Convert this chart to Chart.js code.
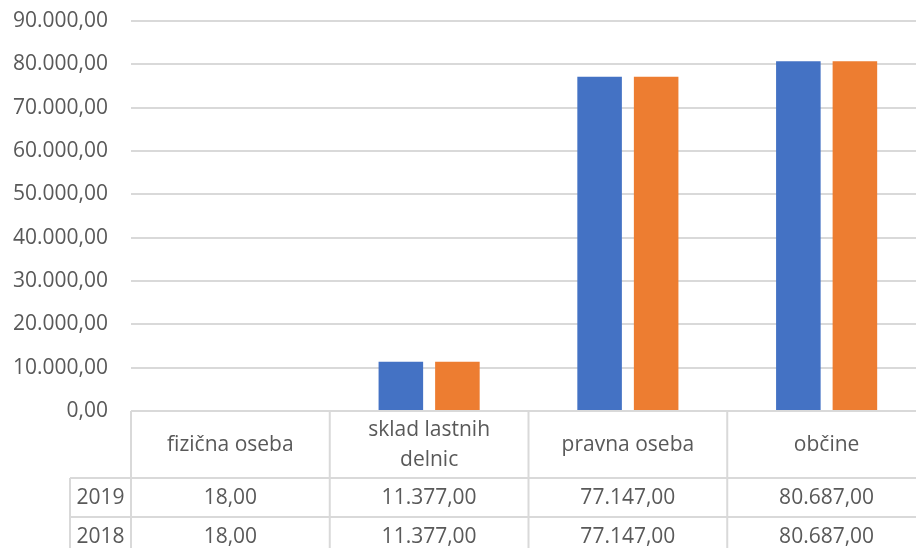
<!DOCTYPE html>
<html>
<head>
<meta charset="utf-8">
<script src="https://cdn.jsdelivr.net/npm/chart.js@4.4.1/dist/chart.umd.min.js"></script>
<style>
  html, body { margin: 0; padding: 0; background: #fff; overflow: hidden; }
  #wrap { width: 916px; height: 548px; overflow: hidden; }
</style>
</head>
<body>
<div id="wrap"><canvas id="c" width="926" height="548"></canvas></div>
<script>
const categories = ['fizična oseba', ['sklad lastnih', 'delnic'], 'pravna oseba', 'občine'];
const seriesNames = ['2019', '2018'];
const values2019 = [18, 11377, 77147, 80687];
const values2018 = [18, 11377, 77147, 80687];
const colors = ['#4472C4', '#ED7D31'];

const FONT = '"Open Sans", sans-serif';
const TEXT = '#595959';
const LINE = '#d9d9d9';

// 1234.5 -> 1.234,50
const fmt = v => v.toFixed(2).replace('.', ',').replace(/\B(?=(\d{3})+(?!\d))/g, '.');

// data table under the plot, Excel style
const tablePlugin = {
  id: 'dataTable',
  afterDraw(chart) {
    const { ctx, chartArea, scales: { x } } = chart;
    const n = categories.length;
    const colW = x.width / n;
    const top = chartArea.bottom;
    const headH = 67, rowH = 39;
    const keyLeft = 70;
    const series = [values2019, values2018];

    ctx.save();
    ctx.strokeStyle = LINE;
    ctx.lineWidth = 2;

    // horizontal lines
    ctx.beginPath();
    ctx.moveTo(x.left, top); ctx.lineTo(x.right, top);
    for (let r = 0; r <= series.length; r++) {
      const y = top + headH + r * rowH;
      ctx.moveTo(keyLeft, y); ctx.lineTo(x.right, y);
    }
    // vertical lines
    const bottom = top + headH + series.length * rowH;
    for (let i = 0; i <= n; i++) {
      const xx = x.left + i * colW;
      ctx.moveTo(xx, top); ctx.lineTo(xx, bottom);
    }
    ctx.moveTo(keyLeft, top + headH); ctx.lineTo(keyLeft, bottom);
    ctx.stroke();

    ctx.fillStyle = TEXT;
    ctx.font = '21px ' + FONT;
    ctx.textAlign = 'center';
    ctx.textBaseline = 'middle';

    categories.forEach((c, i) => {
      const lines = Array.isArray(c) ? c : [c];
      const cx = x.left + (i + 0.5) * colW;
      const cy = top + headH / 2 + 1;
      lines.forEach((l, j) => {
        ctx.fillText(l, cx, cy + (j - (lines.length - 1) / 2) * 30);
      });
    });

    series.forEach((vals, r) => {
      const cy = top + headH + (r + 0.5) * rowH + 1;
      ctx.fillText(seriesNames[r], (keyLeft + x.left) / 2, cy);
      vals.forEach((v, i) => {
        ctx.fillText(fmt(v), x.left + (i + 0.5) * colW, cy);
      });
    });
    ctx.restore();
  }
};

const ctx = document.getElementById('c').getContext('2d');
new Chart(ctx, {
  type: 'bar',
  data: {
    labels: categories,
    datasets: [
      { label: seriesNames[0], data: values2019, backgroundColor: colors[0] },
      { label: seriesNames[1], data: values2018, backgroundColor: colors[1] },
    ]
  },
  options: {
    responsive: false,
    animation: false,
    layout: { padding: { top: 21, bottom: 137, left: 0, right: 0 } },
    datasets: { bar: { categoryPercentage: 0.569, barPercentage: 0.788 } },
    plugins: { legend: { display: false }, tooltip: { enabled: false } },
    scales: {
      x: { display: false, offset: true },
      y: {
        min: 0, max: 90000,
        border: { display: false },
        grid: { color: LINE, lineWidth: 2, drawTicks: false },
        ticks: {
          stepSize: 10000,
          padding: 23,
          color: TEXT,
          font: { family: FONT, size: 21 },
          callback: v => fmt(v),
        },
        afterFit: s => { s.width = 131; s.paddingTop = 0; s.paddingBottom = 0; },
      }
    }
  },
  plugins: [tablePlugin]
});
</script>
</body>
</html>
